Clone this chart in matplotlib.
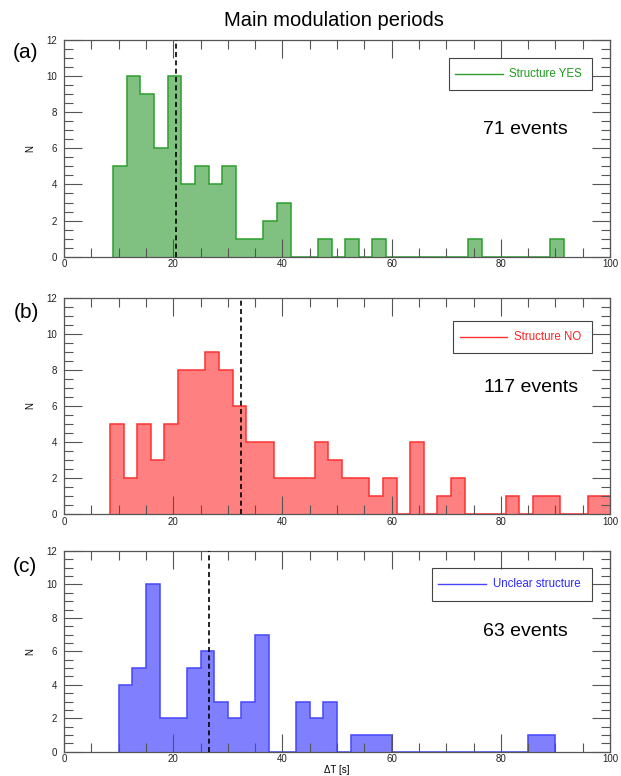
import numpy as np
import matplotlib
matplotlib.use("Agg")
import matplotlib.pyplot as plt
from matplotlib.patches import Rectangle
from matplotlib.lines import Line2D
from matplotlib.ticker import MultipleLocator

plt.rcParams['font.family'] = ['Liberation Sans', 'DejaVu Sans']

W, H = 621, 776

# ---- data ----
bin_width = 2.5

start_yes = 9.0
counts_yes = [5, 10, 9, 6, 10, 4, 5, 4, 5, 1, 1, 2, 3, 0, 0, 1, 0, 1, 0, 1,
              0, 0, 0, 0, 0, 0, 1, 0, 0, 0, 0, 0, 1]
median_yes = 20.5
events_yes = "71 events"
label_yes = "Structure YES"

start_no = 8.4
counts_no = [5, 2, 5, 3, 5, 8, 8, 9, 8, 6, 4, 4, 2, 2, 2, 4, 3, 2, 2, 1, 2,
             0, 4, 0, 1, 2, 0, 0, 0, 1, 0, 1, 1, 0, 0, 1, 1]
median_no = 32.4
events_no = "117 events"
label_no = "Structure NO"

start_unc = 10.0
counts_unc = [4, 5, 10, 2, 2, 5, 6, 3, 2, 3, 7, 0, 0, 3, 2, 3, 0, 1, 1, 1,
              0, 0, 0, 0, 0, 0, 0, 0, 0, 0, 1, 1]
median_unc = 26.5
events_unc = "63 events"
label_unc = "Unclear structure"

panel_letters = ["(a)", "(b)", "(c)"]
title = "Main modulation periods"
xlabel = "\u0394T [s]"
ylabel = "N"

# ---- styling / layout ----
fills = ['#80c080', '#ff8080', '#8080ff']
edges_c = ['#2e9e2e', '#ff3030', '#4646ff']
text_c = ['#1f9a1f', '#ff2020', '#2a2aff']

def fx(px):
    return px / W

def fy(py):
    return 1 - py / H

# axes boxes in pixels: (left, top, right, bottom)
boxes = [(64, 40, 610, 256.7), (64, 297.7, 610, 514), (64, 551, 610, 751.7)]
# legend boxes in pixels: (left, top, right, bottom, line_x0, line_x1, text_x)
leg_boxes = [(449, 58.3, 591.7, 90, 455, 503, 509),
             (453, 321, 591.7, 352.7, 460, 506.7, 514),
             (432, 568, 591.7, 600.7, 437.7, 485.7, 492.7)]
events_pos = [(483, 129), (484, 388), (483, 632)]
letter_pos = [(26, 53), (26, 313), (25, 566)]

fig = plt.figure(figsize=(W / 100, H / 100), dpi=100)

datasets = [
    (start_yes, counts_yes, median_yes, events_yes, label_yes),
    (start_no, counts_no, median_no, events_no, label_no),
    (start_unc, counts_unc, median_unc, events_unc, label_unc),
]

for i, (start, counts, med, ev, lab) in enumerate(datasets):
    l, t, r, b = boxes[i]
    ax = fig.add_axes([fx(l), fy(b), (r - l) / W, (b - t) / H])
    counts = np.asarray(counts, dtype=float)
    edges = start + bin_width * np.arange(len(counts) + 1)
    ax.stairs(counts, edges, baseline=0, fill=True, color=fills[i], lw=0, zorder=1)
    ax.stairs(counts, edges, baseline=0, fill=False, color=edges_c[i], lw=1.1, zorder=1.5)
    ax.axvline(med, color='black', lw=1.2, ls=(0, (3, 2)), zorder=3)

    ax.set_xlim(0, 100)
    ax.set_ylim(0, 12)
    ax.xaxis.set_major_locator(MultipleLocator(20))
    ax.xaxis.set_minor_locator(MultipleLocator(5))
    ax.yaxis.set_major_locator(MultipleLocator(2))
    ax.yaxis.set_minor_locator(MultipleLocator(0.5))
    ax.tick_params(which='both', direction='in', top=True, right=True,
                   color='#555555', labelsize=7, width=0.8, labelcolor='#222222')
    ax.tick_params(which='major', length=13)
    ax.tick_params(which='minor', length=6.5)
    ax.tick_params(axis='x', pad=2)
    ax.tick_params(axis='y', pad=5)
    for sp in ax.spines.values():
        sp.set_color('#555555')
        sp.set_linewidth(0.9)
    ax.set_ylabel(ylabel, fontsize=7)
    ax.yaxis.set_label_coords(-0.053, 0.5)

    # legend box
    lx0, lt, lx1, lb, ln0, ln1, tx = leg_boxes[i]
    fig.patches.append(Rectangle((fx(lx0), fy(lb)), (lx1 - lx0) / W, (lb - lt) / H,
                                 transform=fig.transFigure, fill=False,
                                 edgecolor='#444444', lw=0.8, zorder=5))
    ly = (lt + lb) / 2
    fig.lines.append(Line2D([fx(ln0), fx(ln1)], [fy(ly), fy(ly)],
                            transform=fig.transFigure, color=edges_c[i], lw=1.0))
    fig.text(fx(tx), fy(ly), lab, color=text_c[i], fontsize=8.3,
             ha='left', va='center')

    ex, ey = events_pos[i]
    fig.text(fx(ex), fy(ey), ev, fontsize=14, ha='left', va='center')

    px, py = letter_pos[i]
    fig.text(fx(px), fy(py), panel_letters[i], fontsize=15, ha='center', va='center')

fig.text(fx(334), fy(20), title, fontsize=14.5, ha='center', va='center')
fig.text(fx(337), fy(770), xlabel, fontsize=7, ha='center', va='center')

fig.savefig("out.png", dpi=100)
